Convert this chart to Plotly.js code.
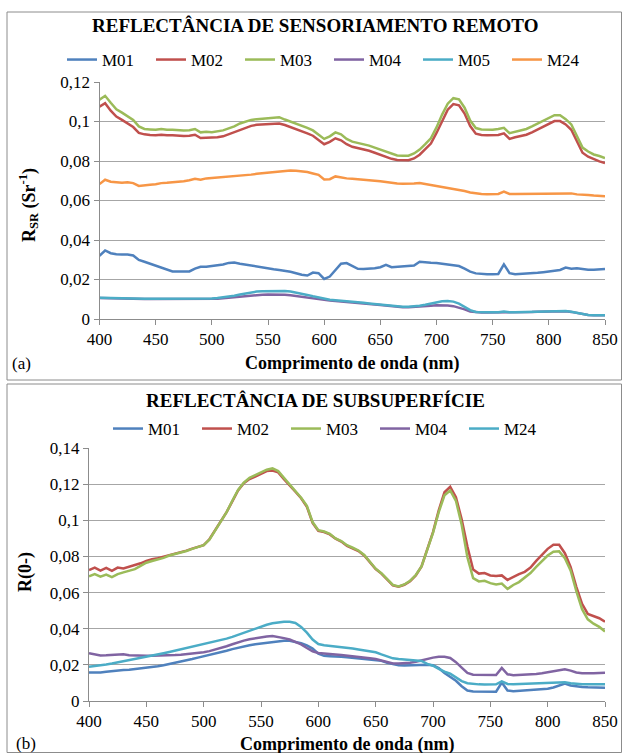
<!DOCTYPE html>
<html>
<head>
<meta charset="utf-8">
<script src="https://cdn.plot.ly/plotly-3.0.1.min.js"></script>
<style>html,body{margin:0;padding:0;background:#fff}#chart{width:623px;height:753px}</style>
</head>
<body>
<div id="chart"></div>
<script>
// Wavelengths (nm)
var wavelength = [400,405,410,415,420,425,430,435,440,445,450,455,460,465,470,475,480,485,490,495,500,505,510,515,520,525,530,535,540,545,550,555,560,565,570,575,580,585,590,595,600,605,610,615,620,625,630,635,640,645,650,655,660,665,670,675,680,685,690,695,700,705,710,715,720,725,730,735,740,745,750,755,760,765,770,775,780,785,790,795,800,805,810,815,820,825,830,835,840,845,850];

// Panel (a) - Remote sensing reflectance
var rsNames = ["M01","M02","M03","M04","M05","M24"];
var rsM01 = [0.032,0.0347,0.0333,0.0328,0.0327,0.0327,0.0322,0.0299,0.029,0.028,0.027,0.0257,0.0248,0.0241,0.024,0.024,0.0241,0.0255,0.0264,0.0265,0.0268,0.0272,0.0276,0.0284,0.0286,0.028,0.0275,0.0269,0.0266,0.0262,0.0256,0.0252,0.0248,0.0244,0.0239,0.0232,0.0224,0.022,0.0235,0.0232,0.0203,0.0215,0.025,0.028,0.0283,0.0268,0.0254,0.0253,0.0254,0.0257,0.0262,0.0274,0.0262,0.0265,0.0266,0.027,0.0271,0.029,0.0286,0.0285,0.0284,0.028,0.0276,0.0272,0.0268,0.0255,0.024,0.0231,0.0227,0.0226,0.0226,0.0228,0.0277,0.0232,0.0227,0.0228,0.023,0.0232,0.0234,0.0237,0.024,0.0243,0.0248,0.026,0.0254,0.0257,0.0253,0.025,0.025,0.0251,0.0253];
var rsM02 = [0.1075,0.1093,0.1055,0.1025,0.1008,0.0988,0.0972,0.0942,0.0935,0.0932,0.093,0.0933,0.093,0.0931,0.0928,0.0927,0.0928,0.0933,0.0916,0.0918,0.0917,0.092,0.0925,0.0935,0.0945,0.0958,0.0968,0.0978,0.0983,0.0985,0.0987,0.099,0.099,0.0982,0.0972,0.0962,0.0952,0.094,0.0928,0.0908,0.0885,0.0897,0.0915,0.0905,0.0885,0.0872,0.0866,0.0861,0.0852,0.0842,0.0832,0.082,0.0811,0.0805,0.0803,0.0804,0.0813,0.0832,0.086,0.0888,0.0942,0.1005,0.106,0.1088,0.1082,0.104,0.0977,0.0938,0.0932,0.093,0.093,0.0932,0.094,0.0912,0.092,0.0927,0.0933,0.0945,0.096,0.0975,0.099,0.1002,0.1002,0.0985,0.0958,0.0898,0.0842,0.0822,0.0808,0.0798,0.079];
var rsM03 = [0.111,0.113,0.1095,0.1062,0.1045,0.1025,0.1008,0.0975,0.0962,0.096,0.0958,0.0962,0.0958,0.0958,0.0955,0.0955,0.0956,0.0962,0.0945,0.0948,0.0946,0.095,0.0955,0.0965,0.0975,0.099,0.1,0.1008,0.1012,0.1015,0.1018,0.1022,0.1022,0.101,0.1,0.099,0.098,0.0968,0.0955,0.0935,0.0912,0.0925,0.0945,0.0935,0.0912,0.0898,0.0892,0.0887,0.0878,0.0868,0.0858,0.0845,0.0835,0.0828,0.0826,0.0827,0.0838,0.0858,0.0885,0.0915,0.097,0.1035,0.109,0.1118,0.1112,0.107,0.1005,0.0967,0.096,0.0958,0.0958,0.0962,0.0968,0.0941,0.0948,0.0955,0.0962,0.0975,0.099,0.1005,0.102,0.1032,0.1032,0.1012,0.0985,0.0925,0.0868,0.0848,0.0833,0.0825,0.0815];
var rsM04 = [0.0106,0.0105,0.0104,0.0103,0.0102,0.0102,0.0102,0.0101,0.0101,0.0101,0.0101,0.0101,0.0101,0.0101,0.0101,0.0101,0.0101,0.0101,0.0101,0.0102,0.0102,0.0103,0.0105,0.0108,0.0111,0.0114,0.0117,0.012,0.0122,0.0123,0.0124,0.0124,0.0124,0.0123,0.012,0.0116,0.0112,0.0107,0.0102,0.0098,0.0095,0.0093,0.0091,0.0089,0.0087,0.0085,0.0082,0.0079,0.0077,0.0074,0.0071,0.0068,0.0065,0.0062,0.006,0.006,0.0061,0.0063,0.0065,0.0067,0.0069,0.0069,0.0068,0.0065,0.0058,0.0049,0.0038,0.0034,0.0033,0.0033,0.0033,0.0033,0.0036,0.0033,0.0033,0.0034,0.0035,0.0036,0.0037,0.0038,0.0039,0.004,0.004,0.0039,0.0036,0.003,0.0024,0.002,0.0019,0.0019,0.0019];
var rsM05 = [0.0107,0.0106,0.0105,0.0104,0.0104,0.0103,0.0103,0.0102,0.0102,0.0102,0.0102,0.0102,0.0102,0.0102,0.0102,0.0102,0.0102,0.0102,0.0102,0.0103,0.0104,0.0106,0.0109,0.0113,0.0118,0.0124,0.013,0.0135,0.0139,0.0141,0.0142,0.0143,0.0143,0.0142,0.0139,0.0134,0.0128,0.0122,0.0115,0.0108,0.0102,0.0097,0.0095,0.0093,0.0091,0.0088,0.0085,0.0082,0.0079,0.0076,0.0073,0.007,0.0067,0.0064,0.0062,0.0062,0.0064,0.0067,0.0072,0.0079,0.0085,0.009,0.0091,0.0088,0.0078,0.0062,0.0045,0.0036,0.0034,0.0034,0.0034,0.0034,0.0038,0.0034,0.0034,0.0035,0.0036,0.0037,0.0038,0.0039,0.004,0.0041,0.0041,0.004,0.0037,0.0031,0.0024,0.002,0.0019,0.0019,0.0019];
var rsM24 = [0.0683,0.0705,0.0695,0.0693,0.069,0.0692,0.0688,0.0674,0.0678,0.068,0.0682,0.0688,0.069,0.0692,0.0695,0.0698,0.0703,0.071,0.0705,0.0712,0.0714,0.0716,0.0718,0.0722,0.0725,0.0724,0.0728,0.0731,0.0735,0.0738,0.0742,0.0745,0.0749,0.0752,0.0752,0.0751,0.0748,0.0744,0.0737,0.073,0.0706,0.0708,0.0722,0.0716,0.0712,0.071,0.0708,0.0707,0.0703,0.07,0.0697,0.0693,0.0689,0.0686,0.0685,0.0685,0.0686,0.0689,0.0684,0.0678,0.0675,0.0671,0.0666,0.0659,0.0654,0.0648,0.0641,0.0636,0.0633,0.0632,0.0632,0.0633,0.0645,0.0633,0.0633,0.0633,0.0633,0.0633,0.0633,0.0634,0.0634,0.0634,0.0635,0.0636,0.0636,0.0631,0.0631,0.0628,0.0625,0.0623,0.0622];

// Panel (b) - Subsurface reflectance
var ssNames = ["M01","M02","M03","M04","M24"];
var ssM01 = [0.0158,0.0157,0.0158,0.0162,0.0166,0.017,0.0172,0.0173,0.0176,0.0179,0.0183,0.0187,0.0192,0.0198,0.0204,0.021,0.0216,0.0223,0.0232,0.024,0.0247,0.0255,0.0262,0.027,0.0278,0.0287,0.0295,0.0302,0.0308,0.0314,0.0318,0.0322,0.0327,0.033,0.0333,0.0333,0.0328,0.032,0.0308,0.029,0.0262,0.025,0.0248,0.0248,0.0245,0.0242,0.0239,0.0236,0.0234,0.0232,0.0229,0.0222,0.0212,0.0203,0.0198,0.0197,0.0199,0.0199,0.02,0.0201,0.0198,0.0182,0.0155,0.0134,0.0112,0.0082,0.0058,0.0052,0.0051,0.0051,0.0051,0.0051,0.0102,0.0058,0.0054,0.0056,0.0059,0.006,0.0062,0.0065,0.0068,0.0075,0.0085,0.0097,0.0086,0.008,0.0078,0.0076,0.0075,0.0074,0.0074];
var ssM02 = [0.0725,0.0738,0.0722,0.0737,0.072,0.0738,0.0733,0.0742,0.0752,0.0762,0.0775,0.0785,0.079,0.0798,0.0808,0.0818,0.0822,0.0832,0.0843,0.0852,0.0862,0.0895,0.0945,0.1,0.1045,0.1105,0.1165,0.1205,0.1228,0.1242,0.1258,0.1272,0.1275,0.1265,0.1228,0.1195,0.1158,0.1122,0.1075,0.0985,0.0942,0.0935,0.0922,0.0898,0.0882,0.0858,0.0845,0.083,0.0805,0.0768,0.073,0.0705,0.0675,0.064,0.0632,0.0643,0.0663,0.0695,0.0745,0.0835,0.0935,0.1055,0.1155,0.1185,0.1128,0.1005,0.0855,0.0728,0.0705,0.0708,0.0695,0.0692,0.0695,0.067,0.0688,0.0702,0.0715,0.0738,0.0775,0.081,0.0842,0.0865,0.0865,0.0818,0.0742,0.0632,0.0538,0.0482,0.0472,0.0458,0.0439];
var ssM03 = [0.069,0.0702,0.0688,0.07,0.0685,0.0702,0.0712,0.072,0.073,0.0748,0.0765,0.0775,0.0782,0.0792,0.0805,0.0812,0.082,0.083,0.0842,0.0852,0.0862,0.0893,0.0942,0.0998,0.1045,0.1108,0.1168,0.1208,0.1235,0.125,0.1265,0.128,0.1287,0.1272,0.1235,0.12,0.1162,0.1125,0.108,0.099,0.0945,0.0938,0.0925,0.09,0.0885,0.0862,0.0848,0.0833,0.0808,0.077,0.0732,0.0707,0.0677,0.0642,0.0634,0.0645,0.0665,0.0697,0.0745,0.0832,0.093,0.1045,0.1138,0.1165,0.1108,0.0975,0.0795,0.068,0.0662,0.0665,0.0652,0.0645,0.065,0.062,0.0642,0.0658,0.0682,0.0708,0.0742,0.0775,0.0805,0.0826,0.0828,0.079,0.0722,0.0608,0.0508,0.0452,0.0428,0.041,0.0385];
var ssM04 = [0.0264,0.0258,0.0252,0.0253,0.0255,0.0256,0.0259,0.0253,0.0251,0.025,0.025,0.025,0.025,0.0251,0.0252,0.0254,0.0256,0.0259,0.0262,0.0266,0.027,0.0276,0.0284,0.0293,0.0303,0.0314,0.0325,0.0334,0.0342,0.0348,0.0352,0.0357,0.036,0.0355,0.0348,0.034,0.0328,0.0313,0.0293,0.0275,0.0266,0.0262,0.026,0.0258,0.0255,0.0252,0.0248,0.0245,0.0241,0.0237,0.0232,0.0225,0.0215,0.0208,0.0207,0.0208,0.0212,0.0217,0.0225,0.0234,0.024,0.0245,0.0245,0.0238,0.0215,0.0185,0.0155,0.0145,0.0144,0.0143,0.0143,0.0144,0.0183,0.0148,0.0143,0.0144,0.0145,0.0148,0.015,0.0153,0.0158,0.0162,0.0168,0.0175,0.0168,0.0158,0.0153,0.0152,0.0153,0.0155,0.0157];
var ssM24 = [0.019,0.0193,0.0197,0.0202,0.0207,0.0213,0.0218,0.0224,0.023,0.0237,0.0244,0.025,0.0257,0.0264,0.0271,0.0278,0.0285,0.0292,0.0299,0.0306,0.0313,0.032,0.0328,0.0336,0.0345,0.0355,0.0366,0.0377,0.0389,0.0402,0.0413,0.0422,0.043,0.0436,0.0439,0.0438,0.0432,0.041,0.0378,0.034,0.0315,0.0308,0.0305,0.0302,0.0298,0.0294,0.029,0.0285,0.0281,0.0276,0.027,0.0258,0.0245,0.0236,0.0232,0.023,0.0228,0.0226,0.0222,0.0205,0.0195,0.0178,0.0162,0.0151,0.0128,0.011,0.0098,0.0093,0.0092,0.0091,0.0091,0.0092,0.0108,0.0094,0.0092,0.0093,0.0093,0.0094,0.0095,0.0096,0.0097,0.0099,0.0101,0.0104,0.0098,0.0094,0.0093,0.0092,0.0092,0.0092,0.0092];

// Tick labels
var xTicks = [400,450,500,550,600,650,700,750,800,850];
var yTicksA = [0,0.02,0.04,0.06,0.08,0.1,0.12];
var yLabelsA = ["0","0,02","0,04","0,06","0,08","0,1","0,12"];
var yTicksB = [0,0.02,0.04,0.06,0.08,0.1,0.12,0.14];
var yLabelsB = ["0","0,02","0,04","0,06","0,08","0,1","0,12","0,14"];

var colorsA = ["#4F81BD","#C0504D","#9BBB59","#8064A2","#4BACC6","#F79646"];
var colorsB = ["#4F81BD","#C0504D","#9BBB59","#8064A2","#4BACC6"];

var W = 623, H = 753;
function px(x){return x/W;}
function py(y){return 1 - y/H;}

var seriesA = [rsM01, rsM02, rsM03, rsM04, rsM05, rsM24];
var seriesB = [ssM01, ssM02, ssM03, ssM04, ssM24];
var traces = [];
seriesA.forEach(function(s,i){
  traces.push({x: wavelength, y: s, name: rsNames[i], type:'scatter', mode:'lines',
    line:{color: colorsA[i], width:2.5}, xaxis:'x', yaxis:'y', legend:'legend'});
});
seriesB.forEach(function(s,i){
  traces.push({x: wavelength, y: s, name: ssNames[i], type:'scatter', mode:'lines',
    line:{color: colorsB[i], width:2.5}, xaxis:'x2', yaxis:'y2', legend:'legend2'});
});

var font = "Liberation Serif";
var axX = function(domain, anchor){ return {
  domain: domain, anchor: anchor, range:[400,850], tickvals: xTicks, ticktext: xTicks.map(String),
  showgrid:false, zeroline:false, showline:true, linecolor:'#8c8c8c', linewidth:1,
  ticks:'outside', ticklen:5, tickcolor:'#8c8c8c', tickfont:{family:font, size:17, color:'#000'}, fixedrange:true
};};
var axY = function(domain, anchor, rng, tv, tt){ return {
  domain: domain, anchor: anchor, range:rng, tickvals: tv, ticktext: tt,
  showgrid:true, gridcolor:'#a6a6a6', gridwidth:1, zeroline:false, showline:true, linecolor:'#8c8c8c', linewidth:1,
  ticks:'outside', ticklen:5, tickcolor:'#8c8c8c', tickfont:{family:font, size:17, color:'#000'}, fixedrange:true
};};

var layout = {
  width: W, height: H, margin:{l:0,r:0,t:0,b:0}, paper_bgcolor:'#fff', plot_bgcolor:'#fff',
  separators: ',.', font:{family:font, size:17, color:'#000'},
  xaxis: axX([px(99.5), px(605)], 'y'),
  yaxis: axY([py(319), py(82)], 'x', [0,0.12], yTicksA, yLabelsA),
  xaxis2: axX([px(89), px(605)], 'y2'),
  yaxis2: axY([py(701), py(448)], 'x2', [0,0.14], yTicksB, yLabelsB),
  legend: {orientation:'h', x: px(62), y: py(60), xanchor:'left', yanchor:'middle', entrywidth: 44, entrywidthmode:'pixels',
    font:{family:font, size:17, color:'#000'}, bgcolor:'rgba(0,0,0,0)', borderwidth:0},
  legend2: {orientation:'h', x: px(108), y: py(429), xanchor:'left', yanchor:'middle', entrywidth: 44, entrywidthmode:'pixels',
    font:{family:font, size:17, color:'#000'}, bgcolor:'rgba(0,0,0,0)', borderwidth:0},
  shapes: [
    {type:'rect', xref:'paper', yref:'paper', x0:px(7), x1:px(621.5), y0:py(380), y1:py(12), line:{color:'#8c8c8c', width:1}},
    {type:'rect', xref:'paper', yref:'paper', x0:px(7), x1:px(621.5), y0:py(752.5), y1:py(384), line:{color:'#8c8c8c', width:1}}
  ],
  annotations: [
    {text:'<b>REFLECTÂNCIA DE SENSORIAMENTO REMOTO</b>', xref:'paper', yref:'paper', x:px(315), y:py(26), xanchor:'center', yanchor:'middle', showarrow:false, font:{family:font, size:19}},
    {text:'<b>Comprimento de onda (nm)</b>', xref:'paper', yref:'paper', x:px(352), y:py(363), xanchor:'center', yanchor:'middle', showarrow:false, font:{family:font, size:18}},
    {text:'<b>R<sub>SR</sub> (Sr<sup>-1</sup>)</b>', xref:'paper', yref:'paper', x:px(29), y:py(205), xanchor:'center', yanchor:'middle', textangle:-90, showarrow:false, font:{family:font, size:18}},
    {text:'(a)', xref:'paper', yref:'paper', x:px(10), y:py(363), xanchor:'left', yanchor:'middle', showarrow:false, font:{family:font, size:17}},
    {text:'<b>REFLECTÂNCIA DE SUBSUPERFÍCIE</b>', xref:'paper', yref:'paper', x:px(315), y:py(400), xanchor:'center', yanchor:'middle', showarrow:false, font:{family:font, size:19}},
    {text:'<b>Comprimento de onda (nm)</b>', xref:'paper', yref:'paper', x:px(347), y:py(744), xanchor:'center', yanchor:'middle', showarrow:false, font:{family:font, size:18}},
    {text:'<b>R(0-)</b>', xref:'paper', yref:'paper', x:px(25), y:py(572), xanchor:'center', yanchor:'middle', textangle:-90, showarrow:false, font:{family:font, size:18}},
    {text:'(b)', xref:'paper', yref:'paper', x:px(14), y:py(743), xanchor:'left', yanchor:'middle', showarrow:false, font:{family:font, size:17}}
  ],
  showlegend: true
};

Plotly.newPlot('chart', traces, layout, {staticPlot:true, displayModeBar:false});
</script>
</body>
</html>
